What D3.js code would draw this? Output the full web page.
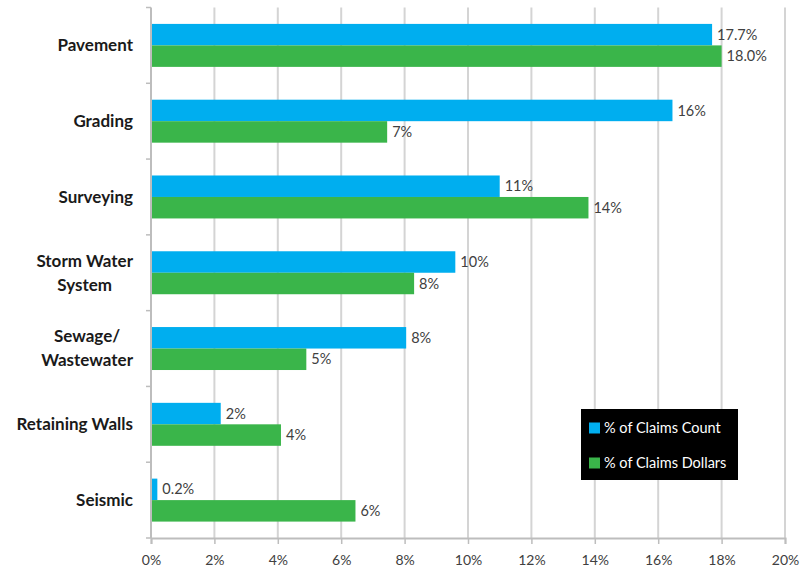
<!DOCTYPE html>
<html>
<head>
<meta charset="utf-8">
<script src="https://cdn.jsdelivr.net/npm/d3@7"></script>
<style>
  html, body { margin: 0; padding: 0; background: #fff; }
  svg { display: block; font-family: Lato, "Open Sans", sans-serif; }
</style>
</head>
<body>
<svg id="chart" width="800" height="569"></svg>
<script>
// Claim categories, top to bottom
const categories = ["Pavement", "Grading", "Surveying", "Storm Water System", "Sewage/ Wastewater", "Retaining Walls", "Seismic"];
// How each category name breaks over lines
const categoryLines = [["Pavement"], ["Grading"], ["Surveying"], ["Storm Water", "System"], ["Sewage/", "Wastewater"], ["Retaining Walls"], ["Seismic"]];

// Share of claims (percent)
const claimsCount   = [17.7, 16.45, 11.0, 9.6, 8.05, 2.2, 0.2];
const claimsDollars = [18.0, 7.45, 13.8, 8.3, 4.9, 4.1, 6.45];
// Decimal places shown in each value label
const countDecimals   = [1, 0, 0, 0, 0, 0, 1];
const dollarsDecimals = [1, 0, 0, 0, 0, 0, 0];

const seriesNames = ["% of Claims Count", "% of Claims Dollars"];
const seriesColors = ["#00AEEF", "#3AB54A"];

// Axis ticks (percent)
const xTicks = [0, 2, 4, 6, 8, 10, 12, 14, 16, 18, 20];

const svg = d3.select("#chart");
const margin = { top: 7.5, right: 15, bottom: 31, left: 151 };
const W = 800, H = 569;
const innerW = W - margin.left - margin.right;
const innerH = H - margin.top - margin.bottom;

const g = svg.append("g").attr("transform", `translate(${margin.left},${margin.top})`);

const x = d3.scaleLinear().domain([0, 20]).range([0, innerW]);
const y = d3.scaleBand().domain(categories).range([0, innerH])
  .paddingInner(0.433).paddingOuter(0.2165);
const ySeries = d3.scaleBand().domain([0, 1]).range([0, y.bandwidth()]);

// Vertical gridlines
g.append("g").selectAll("line").data(xTicks.filter(d => d > 0)).join("line")
  .attr("x1", d => x(d)).attr("x2", d => x(d))
  .attr("y1", 0).attr("y2", innerH)
  .attr("stroke", "#d4d4d4").attr("stroke-width", 2);

// Bars
const rows = categories.map((c, i) => ({
  cat: c,
  values: [
    { s: 0, v: claimsCount[i], dec: countDecimals[i] },
    { s: 1, v: claimsDollars[i], dec: dollarsDecimals[i] }
  ]
}));

const groups = g.append("g").selectAll("g").data(rows).join("g")
  .attr("transform", d => `translate(0,${y(d.cat)})`);

groups.selectAll("rect").data(d => d.values).join("rect")
  .attr("x", 0)
  .attr("y", d => ySeries(d.s))
  .attr("width", d => x(d.v))
  .attr("height", ySeries.bandwidth())
  .attr("fill", d => seriesColors[d.s]);

// Value labels
groups.selectAll("text").data(d => d.values).join("text")
  .attr("x", d => x(d.v) + 5)
  .attr("y", d => ySeries(d.s) + ySeries.bandwidth() / 2)
  .attr("dy", "0.35em")
  .attr("font-size", 14.5)
  .attr("fill", "#404040")
  .text(d => d.v.toFixed(d.dec) + "%");

// Left axis line with ticks at category boundaries
g.append("line").attr("x1", 0).attr("x2", 0).attr("y1", 0).attr("y2", innerH)
  .attr("stroke", "#bdbdbd").attr("stroke-width", 2);
const step = y.step();
g.append("g").selectAll("line").data(d3.range(categories.length + 1)).join("line")
  .attr("x1", -5).attr("x2", 0)
  .attr("y1", i => i * step).attr("y2", i => i * step)
  .attr("stroke", "#bdbdbd").attr("stroke-width", 1.5);

// Bottom axis
const xAxis = g.append("g").attr("transform", `translate(0,${innerH})`)
  .call(d3.axisBottom(x).tickValues(xTicks).tickFormat(d => d + "%").tickSize(6).tickPadding(11));
xAxis.select(".domain").attr("stroke", "#bdbdbd").attr("stroke-width", 2);
xAxis.selectAll(".tick line").attr("stroke", "#bdbdbd").attr("stroke-width", 1.5);
xAxis.selectAll(".tick text").attr("font-size", 14).attr("fill", "#404040")
  .attr("font-family", "Lato, sans-serif");

// Category labels: right-aligned block, lines centred within it
const labelRight = -18;
const catLabels = g.append("g").selectAll("text").data(categories).join("text")
  .attr("font-size", 17).attr("font-weight", "bold").attr("fill", "#1a1a1a")
  .attr("text-anchor", "middle");
catLabels.each(function(c, i) {
  const t = d3.select(this);
  const lines = categoryLines[i];
  const lh = 24;
  const cy = y(c) + y.bandwidth() / 2;
  lines.forEach((ln, j) => {
    t.append("tspan").attr("y", cy + (j - (lines.length - 1) / 2) * lh).attr("dy", "0.35em").text(ln);
  });
  let maxW = 0;
  t.selectAll("tspan").each(function() { maxW = Math.max(maxW, this.getComputedTextLength()); });
  t.selectAll("tspan").attr("x", labelRight - maxW / 2);
});

// Legend
const legend = svg.append("g").attr("transform", "translate(581,409)");
legend.append("rect").attr("width", 157).attr("height", 71).attr("fill", "#000");
seriesNames.forEach((name, i) => {
  const row = legend.append("g").attr("transform", `translate(8,${19 + i * 35})`);
  row.append("rect").attr("x", 0).attr("y", -5.5).attr("width", 11).attr("height", 11).attr("fill", seriesColors[i]);
  row.append("text").attr("x", 15).attr("dy", "0.35em").attr("font-size", 14.5).attr("fill", "#fff").text(name);
});
</script>
</body>
</html>
